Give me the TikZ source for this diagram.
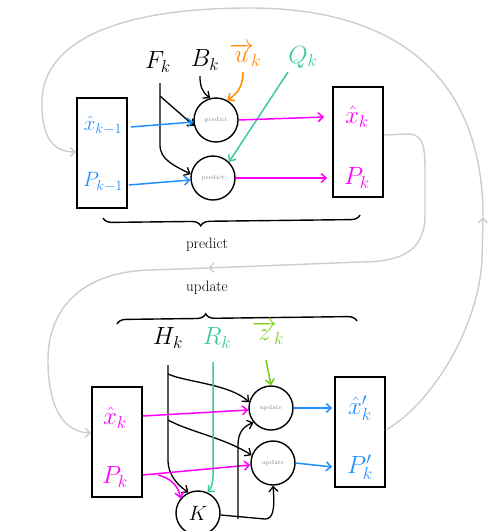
\documentclass[tikz,border=0pt]{standalone}
\usetikzlibrary{arrows.meta,decorations.pathreplacing}
\definecolor{cblue}{RGB}{30,144,255}
\definecolor{cmag}{RGB}{255,0,255}
\definecolor{corange}{RGB}{255,140,0}
\definecolor{cteal}{RGB}{60,200,160}
\definecolor{cgreen}{RGB}{120,205,20}
\definecolor{lgray}{RGB}{205,205,205}
\begin{document}
\begin{tikzpicture}[x=1pt,y=-1pt,
  >={Straight Barb[length=5pt,width=9pt]},
  box/.style={draw, line width=1.6pt, minimum width=50pt, minimum height=110pt, inner sep=0pt},
  circ/.style={draw, circle, line width=1.4pt, minimum size=44pt, inner sep=0pt, font=\fontsize{6}{6}\selectfont, text=gray},
  blk/.style={line width=1.3pt, ->},
  col/.style={line width=1.5pt, ->, draw=#1},
  big/.style={font=\fontsize{26}{28}\selectfont, inner sep=0pt},
  mid/.style={font=\fontsize{24}{26}\selectfont, inner sep=0pt},
  small/.style={font=\fontsize{21}{23}\selectfont, inner sep=0pt},
  loopline/.style={draw=lgray, line width=1.4pt},
  brc/.style={decorate, decoration={brace, amplitude=9pt, aspect=#1}, line width=1.4pt},
  word/.style={font=\fontsize{15}{16}\selectfont, inner sep=0pt}]
\useasboundingbox (0,0) rectangle (496,531);

% ---------- predict stage ----------
\node[box] (L1) at (102,153) {};
\node[box] (R1) at (358,142) {};
\node[small, text=cblue] (x1) at (103,125) {$\hat{x}_{k-1}$};
\node[small, text=cblue] (P1) at (103,182) {$P_{k-1}$};
\node[mid, text=cmag] (xk1) at (357,117) {$\hat{x}_{k}$};
\node[mid, text=cmag] (Pk1) at (357,178) {$P_{k}$};
\node[circ] (p1) at (216,120) {predict};
\node[circ] (p2) at (213,178) {predict};
\node[big] (Fk) at (158,62) {$F_k$};
\node[big] (Bk) at (205,60) {$B_k$};
\node[big, text=corange] (uk) at (245,55) {$\overrightarrow{u}_{\!k}$};
\node[big, text=cteal] (Qk) at (303,57) {$Q_k$};

\coordinate (fb) at (160,96);
\draw[blk] (160,83) -- (160,145) .. controls (160,160) and (175,166) .. (p2.170);
\draw[blk] (fb) -- (p1.195);
\draw[blk] (200,76) .. controls (200,86) and (202,92) .. (p1.105);
\draw[col=corange] (243,72) .. controls (243,86) and (238,93) .. (p1.60);
\draw[col=cteal] (288,72) -- (p2.45);
\draw[col=cblue] (L1.east |- x1) ++(3,2) -- (p1.185);
\draw[col=cblue] (L1.east |- P1) ++(1,3) -- (p2.185);
\draw[col=cmag] (p1.east) -- ([xshift=-8pt]R1.west |- xk1);
\draw[col=cmag] (p2.east) -- ([xshift=-5pt]R1.west |- Pk1);

\draw[brc=0.62] (360,215) -- (103,218);
\node[word] (wpred) at (207,245) {predict};
\node[word] (wupd) at (207,288) {update};

% ---------- update stage ----------
\draw[brc=0.37] (117,324) -- (357,321);
\node[box] (L2) at (117,442) {};
\node[box] (R2) at (360,432) {};
\node[mid, text=cmag] (xk2) at (115,418) {$\hat{x}_{k}$};
\node[mid, text=cmag] (Pk2) at (115,477) {$P_{k}$};
\node[mid, text=cblue] (xp) at (360,408) {$\hat{x}'_{k}$};
\node[mid, text=cblue] (Pp) at (360,467) {$P'_{k}$};
\node[circ] (u1) at (271,408) {update};
\node[circ] (u2) at (273,463) {update};
\node[circ, minimum size=44pt, font=\fontsize{22}{24}\selectfont, text=black] (K) at (198,513) {$K$};
\node[big] (Hk) at (168,338) {$H_k$};
\node[big, text=cteal] (Rk) at (217,338) {$R_k$};
\node[big, text=cgreen] (zk) at (268,333) {$\overrightarrow{z}_{\!k}$};

\draw[blk] (168,365) -- (168,460) .. controls (168,478) and (182,488) .. (K.115);
\draw[blk] (168,374) .. controls (185,382) and (230,384) .. (u1.165);
\draw[blk] (168,420) .. controls (190,432) and (225,438) .. (u2.160);
\draw[col=cteal] (213,362) -- (213,475) .. controls (213,485) and (210,490) .. (K.65);
\draw[col=cgreen] (266,360) -- (u1.north);
\draw[col=cmag] (L2.east |- xk2) ++(0,-2) -- (u1.185);
\draw[col=cmag] (L2.east |- Pk2) ++(0,-2) -- (u2.185);
\draw[col=cmag] (158,475) .. controls (170,478) and (178,485) .. (K.140);
\draw[blk] (K.-5) -- (265,519) .. controls (273,519) and (275,510) .. (u2.south);
\draw[blk] (238,519) -- (238,445) .. controls (238,432) and (244,426) .. (u1.220);
\draw[col=cblue] (u1.east) -- ([xshift=-2pt]R2.west |- xp);
\draw[col=cblue] (u2.east) -- ([xshift=-2pt]R2.west |- Pp);

% ---------- feedback loops ----------
\coordinate (upArrow) at (483,217);
\coordinate (leftArrow) at (208,268);
\draw[loopline, ->] (R2.east |- 0,430) .. controls (430,405) and (478,330) .. (482,260) -- (upArrow);
\draw[loopline, ->] (upArrow) .. controls (483,80) and (400,8) .. (250,8)
   .. controls (100,8) and (40,50) .. (42,105) .. controls (42,140) and (55,152) .. (L1.west |- 0,152);
\draw[loopline, ->] (R1.east |- 0,135) -- (408,134) .. controls (425,134) and (425,150) .. (425,175)
   -- (425,215) .. controls (425,252) and (400,262) .. (360,262) -- (leftArrow);
\draw[loopline, ->] (leftArrow) -- (150,270) .. controls (80,272) and (48,310) .. (48,360)
   .. controls (48,405) and (62,432) .. (L2.west |- 0,433);
\end{tikzpicture}
\end{document}
